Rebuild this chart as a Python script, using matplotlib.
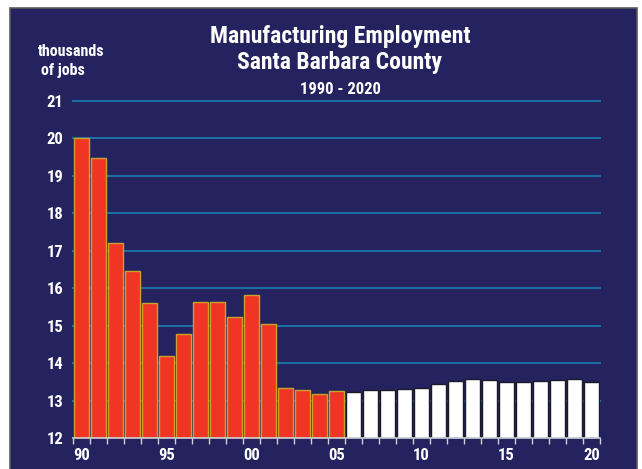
# Manufacturing employment, Santa Barbara County 1990-2020
import numpy as np
import matplotlib.pyplot as plt
from matplotlib.patches import Rectangle

# Data (thousands of jobs)
years = list(range(1990, 2021))
jobs = [20.0, 19.48, 17.2, 16.47, 15.6, 14.2, 14.77, 15.63, 15.63, 15.23,
        15.82, 15.04, 13.34, 13.28, 13.18, 13.25, 13.22, 13.27, 13.28, 13.31,
        13.34, 13.43, 13.52, 13.57, 13.56, 13.5, 13.5, 13.52, 13.55, 13.57, 13.5]
tick_years = [1990, 1995, 2000, 2005, 2010, 2015, 2020]
tick_labels = ['90', '95', '00', '05', '10', '15', '20']
y_ticks = list(range(12, 22))

# Style
navy = '#24225f'
red = '#f03524'
gold = '#c9a227'
grid_col = '#1d6ea3'
plt.rcParams['font.family'] = ['Roboto Condensed', 'DejaVu Sans']
plt.rcParams['font.weight'] = 'bold'

fig = plt.figure(figsize=(6.42, 4.69), dpi=100, facecolor='white')
fig.patches.append(Rectangle((10 / 642, -0.01), 627 / 642, 1.01 - 8 / 469,
                             transform=fig.transFigure, facecolor=navy,
                             edgecolor='#5a5a5a', linewidth=1.2, zorder=-1))

ax = fig.add_axes([73 / 642, 1 - 438 / 469, 527 / 642, 337 / 469])
ax.set_facecolor('none')

# red bars through 2005, white after
colors = [red if y <= 2005 else 'white' for y in years]
edges = [gold if y <= 2005 else '#1a1a2a' for y in years]
ax.bar(years, np.array(jobs) - 12, bottom=12, width=0.88,
       color=colors, edgecolor=edges, linewidth=1, zorder=3)

ax.set_xlim(1989.5, 2020.5)
ax.set_ylim(12, 21)

for y in y_ticks[1:]:
    ax.axhline(y, color=grid_col, linewidth=1.5, zorder=1, clip_on=False)

ax.set_yticks(y_ticks)
ax.set_yticklabels([str(y) for y in y_ticks], color='white', fontsize=12,
                   fontweight='bold')
ax.tick_params(axis='y', length=0, pad=7)

ax.set_xticks(tick_years)
ax.set_xticklabels(tick_labels, color='white', fontsize=12, fontweight='bold')
ax.set_xticks(np.arange(1989.5, 2021, 1), minor=True)
ax.tick_params(axis='x', which='major', length=0, pad=7)
ax.tick_params(axis='x', which='minor', length=4, color='#d0d0d8', width=1)

for s in ['top', 'right', 'left']:
    ax.spines[s].set_visible(False)
ax.spines['bottom'].set_color('#d0d0d8')
ax.spines['bottom'].set_linewidth(1.2)
ax.spines['bottom'].set_zorder(4)

# titles
fig.text(340 / 642, 1 - 36 / 469, 'Manufacturing Employment', color='white',
         fontsize=17, fontweight='bold', ha='center', va='center')
fig.text(340 / 642, 1 - 63 / 469, 'Santa Barbara County', color='white',
         fontsize=17, fontweight='bold', ha='center', va='center')
fig.text(340 / 642, 1 - 89 / 469, '1990 - 2020', color='white',
         fontsize=12, fontweight='bold', ha='center', va='center')
fig.text(38 / 642, 1 - 51 / 469, 'thousands', color='white',
         fontsize=11.5, fontweight='bold', ha='left', va='center')
fig.text(41 / 642, 1 - 71 / 469, 'of jobs', color='white',
         fontsize=11.5, fontweight='bold', ha='left', va='center')

fig.savefig('out.png', dpi=100, facecolor='white')
